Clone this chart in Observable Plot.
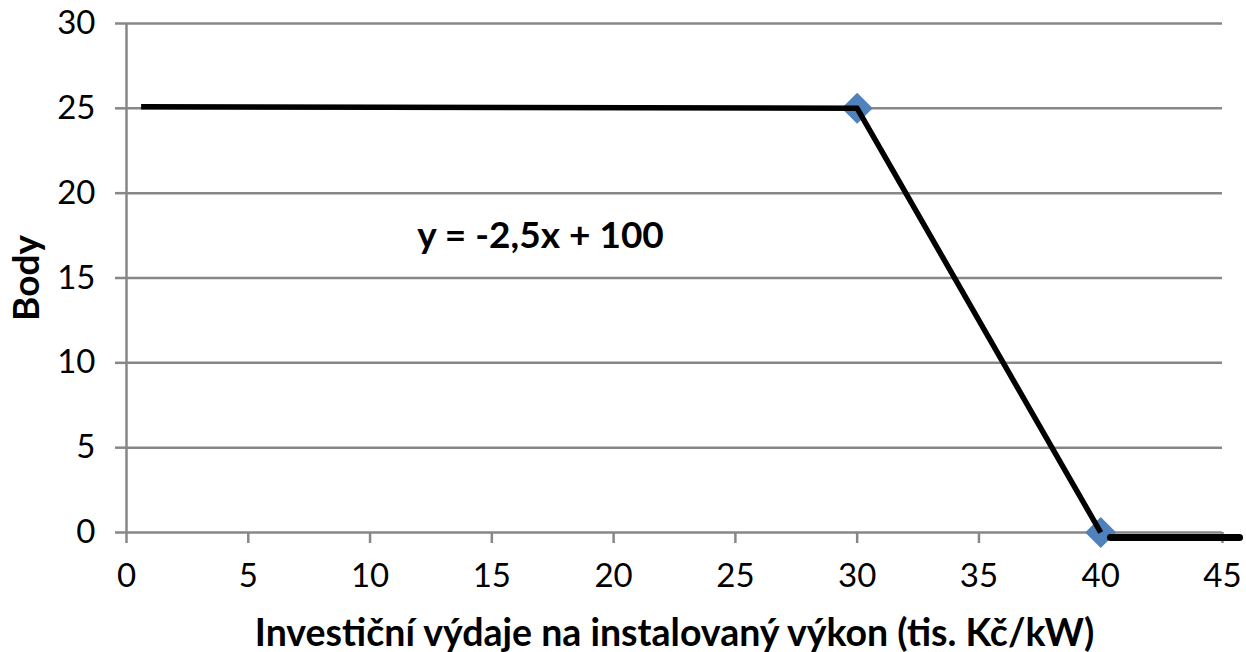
<!DOCTYPE html>
<html><head><meta charset="utf-8">
<script src="https://cdn.jsdelivr.net/npm/d3@7"></script>
<script src="https://cdn.jsdelivr.net/npm/@observablehq/plot@0.6"></script>
<style>
body{margin:0;background:#fff}
#chart svg{font-family:Lato,"Open Sans",sans-serif;background:#fff}
</style>
</head><body><div id="chart"></div>
<script>
const lineX = [0.6, 30, 40];
const lineY = [25.1, 25, 0];
const markerX = [30, 40];
const markerY = [25, 0];
const tailX = [40.4, 45.7];
const tailY = [0, 0];
const xTicks = [0, 5, 10, 15, 20, 25, 30, 35, 40, 45];
const yTicks = [0, 5, 10, 15, 20, 25, 30];
const equationText = ["y = -2,5x + 100"];
const equationX = [17.0];
const equationY = [17.45];
const xTitle = "Investiční výdaje na instalovaný výkon (tis. Kč/kW)";
const yTitle = "Body";

const lineData = lineX.map((x, i) => ({x, y: lineY[i]}));
const markerData = markerX.map((x, i) => ({x, y: markerY[i]}));
const tailData = tailX.map((x, i) => ({x, y: tailY[i]}));
const eqData = equationText.map((t, i) => ({t, x: equationX[i], y: equationY[i]}));

const grey = "#878787";
const chart = Plot.plot({
  width: 1246,
  height: 652,
  marginLeft: 126,
  marginRight: 24,
  marginTop: 23,
  marginBottom: 120,
  x: {domain: [0, 45]},
  y: {domain: [0, 30]},
  marks: [
    Plot.gridY(yTicks, {stroke: grey, strokeOpacity: 1, strokeWidth: 2.5}),
    Plot.ruleX([0], {stroke: grey, strokeWidth: 2.5}),
    Plot.axisY({ticks: yTicks, tickSize: 11, tickPadding: 20, stroke: grey, strokeWidth: 2.5, fill: "#000", fontSize: 33, label: null}),
    Plot.axisX({ticks: xTicks, tickSize: 11, tickPadding: 20, stroke: grey, strokeWidth: 2.5, fill: "#000", fontSize: 33, label: null}),
    Plot.dot(markerData, {x: "x", y: "y", symbol: "diamond2", r: 14, fill: "#4F81BD", stroke: "none"}),
    Plot.line(lineData, {x: "x", y: "y", stroke: "#000", strokeWidth: 5.5, strokeLinejoin: "round", strokeLinecap: "butt"}),
    Plot.line(tailData, {x: "x", y: "y", stroke: "#000", strokeWidth: 7, dy: 5, clip: false}),
    Plot.text(eqData, {x: "x", y: "y", text: "t", fontSize: 37, fontWeight: "bold", fill: "#000", textAnchor: "middle", lineAnchor: "middle"}),
    Plot.text([xTitle], {frameAnchor: "bottom", dy: 101, fontSize: 37.5, fontWeight: "bold", fill: "#000", textAnchor: "middle", lineAnchor: "middle"}),
    Plot.text([yTitle], {frameAnchor: "left", dx: -99, rotate: -90, fontSize: 37, fontWeight: "bold", fill: "#000", textAnchor: "middle", lineAnchor: "middle"})
  ]
});
document.getElementById("chart").append(chart);
</script>
</body></html>
